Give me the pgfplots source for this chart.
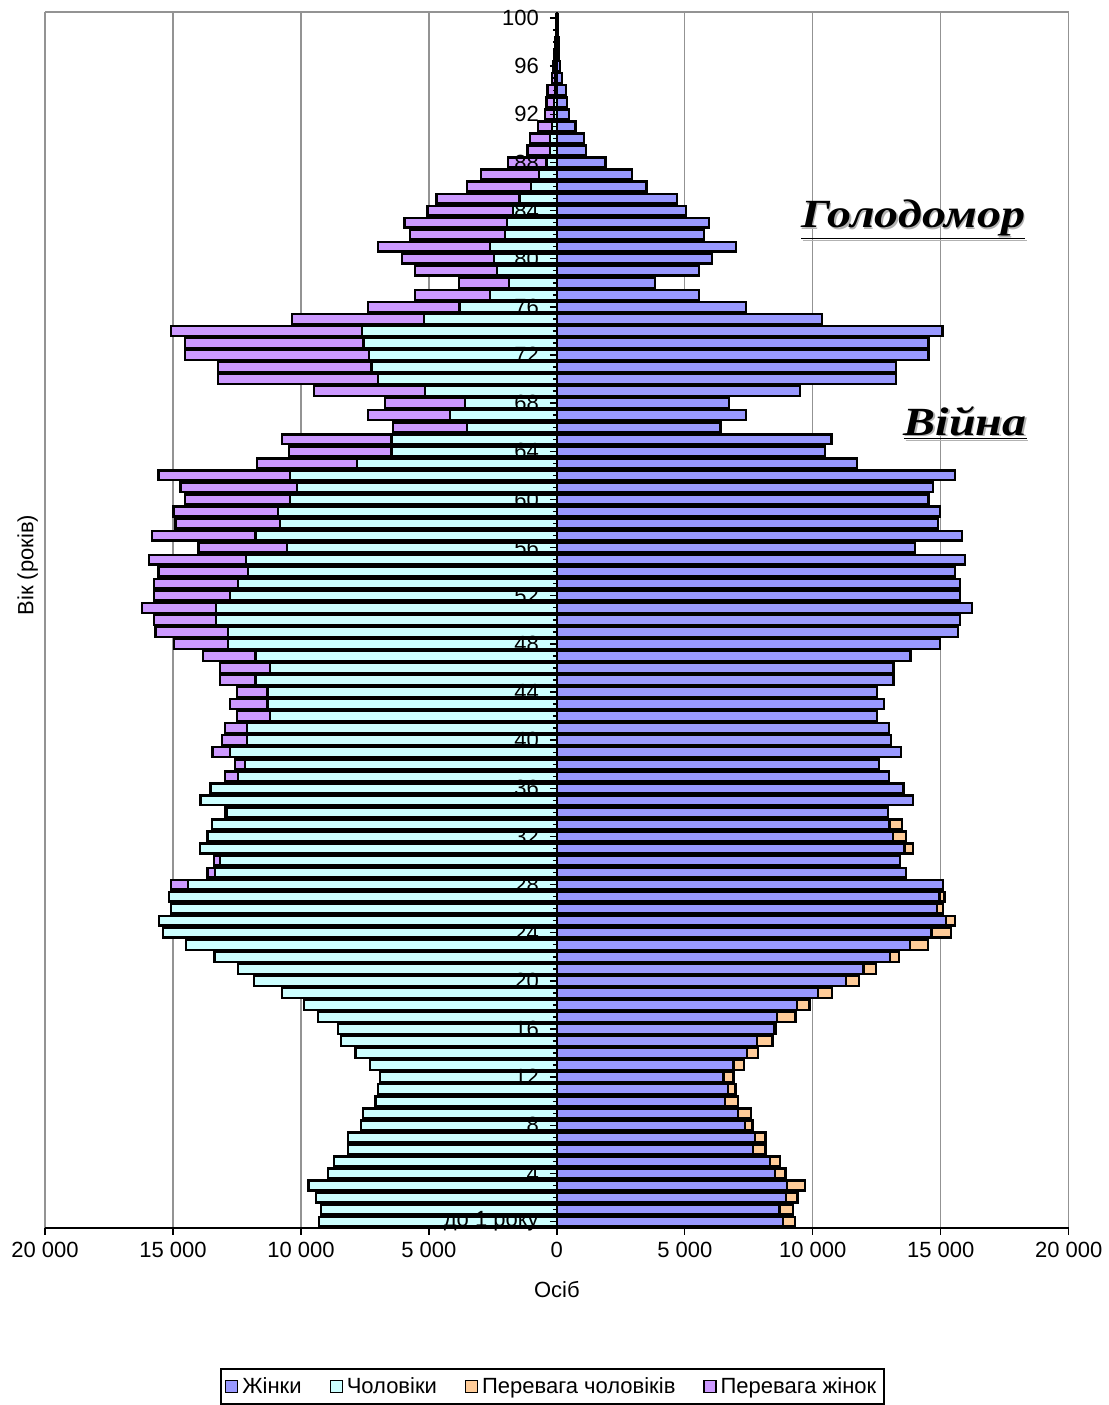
\documentclass[border=0pt]{standalone}
\usepackage{fontspec}
\setmainfont{Liberation Sans}
\newfontfamily\titleserif{Liberation Serif}
\usepackage{pgfplots}
\usepackage{pgfplotstable}
\pgfplotsset{compat=1.18}

\definecolor{cW}{RGB}{153,153,255}
\definecolor{cM}{RGB}{204,255,255}
\definecolor{cEM}{RGB}{255,204,153}
\definecolor{cEW}{RGB}{204,153,255}

% tick labels drawn over the bars, grid kept below them
\pgfplotsset{
  layers/labels over bars/.define layer set={
    axis background,axis grid,main,axis ticks,axis lines,
    axis tick labels,axis descriptions,axis foreground
  }{/pgfplots/layers/standard},
}

% population by single year of age: men, women
\pgfplotstableread{
age men women
0 9300 8850
1 9220 8700
2 9400 8960
3 9700 8980
4 8930 8520
5 8720 8330
6 8150 7660
7 8150 7730
8 7650 7340
9 7580 7080
10 7080 6560
11 6980 6690
12 6900 6510
13 7300 6900
14 7870 7420
15 8430 7810
16 8550 8500
17 9320 8600
18 9870 9380
19 10750 10200
20 11820 11300
21 12470 11980
22 13380 13020
23 14500 13800
24 15400 14640
25 15550 15200
26 15080 14850
27 15150 14950
28 14400 15080
29 13350 13650
30 13150 13400
31 13930 13590
32 13650 13130
33 13480 13000
34 12900 12950
35 13900 13930
36 13500 13550
37 12450 12970
38 12190 12580
39 12760 13460
40 12110 13070
41 12110 12970
42 11200 12500
43 11300 12780
44 11300 12500
45 11770 13160
46 11200 13160
47 11770 13820
48 12840 14970
49 12840 15680
50 13330 15750
51 13330 16220
52 12760 15750
53 12450 15750
54 12060 15570
55 12140 15940
56 10550 14000
57 11770 15830
58 10830 14900
59 10890 14980
60 10420 14520
61 10160 14710
62 10420 15570
63 7810 11720
64 6460 10470
65 6460 10730
66 3520 6400
67 4170 7380
68 3600 6720
69 5160 9500
70 6980 13250
71 7240 13250
72 7340 14520
73 7550 14520
74 7600 15070
75 5200 10350
76 3800 7380
77 2600 5550
78 1880 3830
79 2340 5550
80 2450 6050
81 2600 7000
82 2030 5750
83 1950 5950
84 1700 5050
85 1460 4700
86 1000 3500
87 700 2950
88 400 1900
89 280 1150
90 260 1050
91 200 730
92 120 470
93 100 400
94 80 360
95 50 200
96 40 130
97 30 90
98 20 60
99 10 40
100 10 30
}\pyramid

\begin{document}
\begin{tikzpicture}
\begin{axis}[
  at={(0,0)}, anchor=south west,
  scale only axis,
  width=512pt, height=608pt,
  set layers=labels over bars,
  clip=false,
  xbar,
  xmin=-20000, xmax=20000,
  ymin=-0.5, ymax=100.5,
  axis x line=bottom,
  axis y line=middle,
  hide obscured x ticks=false,
  hide obscured y ticks=false,
  x axis line style={-, black, line width=0.9pt},
  y axis line style={-, black, line width=1.3pt},
  scaled x ticks=false,
  xtick={-20000,-15000,...,20000},
  xticklabels={20 000,15 000,10 000,5 000,0,5 000,10 000,15 000,20 000},
  ytick={0,4,...,100},
  yticklabels={до 1 року,4,8,12,16,20,24,28,32,36,40,44,48,52,56,60,64,68,72,76,80,84,88,92,96,100},
  minor y tick num=3,
  tick align=outside,
  major tick length=3.5pt,
  minor tick length=2pt,
  tick style={black, line width=0.7pt},
  ticklabel style={font=\fontsize{11}{13}\selectfont},
  yticklabel style={xshift=-2pt},
  xmajorgrids=true,
  major grid style={gray!85, line width=0.7pt},
  bars/.style={draw=black, line width=1.15pt, bar width=0.81, bar shift=0pt, forget plot},
  sq/.style={legend image code/.code={\draw[fill=#1, draw=black, line width=0.6pt] (0pt,-3pt) rectangle (6pt,3pt);}},
  legend style={at={(rel axis cs:0.496,-0.1308)}, anchor=center, legend columns=4,
    draw=black, line width=0.9pt, font=\fontsize{11}{13}\selectfont,
    inner sep=2pt, /tikz/every even column/.append style={column sep=12pt}},
]
\addplot[bars, fill=cEW] table[y=age, x expr={-max(\thisrow{men},\thisrow{women})}] {\pyramid};
\addplot[bars, fill=cM] table[y=age, x expr={-\thisrow{men}}] {\pyramid};
\addplot[bars, fill=cEM] table[y=age, x expr={max(\thisrow{men},\thisrow{women})}] {\pyramid};
\addplot[bars, fill=cW] table[y=age, x=women] {\pyramid};

\addlegendimage{sq=cW}
\addlegendentry{Жінки}
\addlegendimage{sq=cM}
\addlegendentry{Чоловіки}
\addlegendimage{sq=cEM}
\addlegendentry{Перевага чоловіків}
\addlegendimage{sq=cEW}
\addlegendentry{Перевага жінок}

\draw[gray!85, line width=0.7pt] (rel axis cs:0,1) -- (rel axis cs:1,1);

\node[rotate=90, font=\fontsize{11}{13}\selectfont] at (rel axis cs:-0.017,0.545) {Вік (років)};
\node[font=\fontsize{11}{13}\selectfont] at (rel axis cs:0.5,-0.051) {Осіб};

\node[xscale=1.2, text=gray!60, font=\titleserif\bfseries\itshape\fontsize{20}{24}\selectfont]
  at ([xshift=0.8pt,yshift=-0.8pt]rel axis cs:0.848,0.829) {\underline{Голодомор}};
\node[xscale=1.2, font=\titleserif\bfseries\itshape\fontsize{20}{24}\selectfont]
  at (rel axis cs:0.848,0.829) {\underline{Голодомор}};
\node[xscale=1.2, text=gray!60, font=\titleserif\bfseries\itshape\fontsize{20}{24}\selectfont]
  at ([xshift=0.8pt,yshift=-0.8pt]rel axis cs:0.899,0.662) {\underline{Війна}};
\node[xscale=1.2, font=\titleserif\bfseries\itshape\fontsize{20}{24}\selectfont]
  at (rel axis cs:0.899,0.662) {\underline{Війна}};
\end{axis}
\path (-22.5pt,-88.5pt) rectangle (531pt,614pt);
\end{tikzpicture}
\end{document}
